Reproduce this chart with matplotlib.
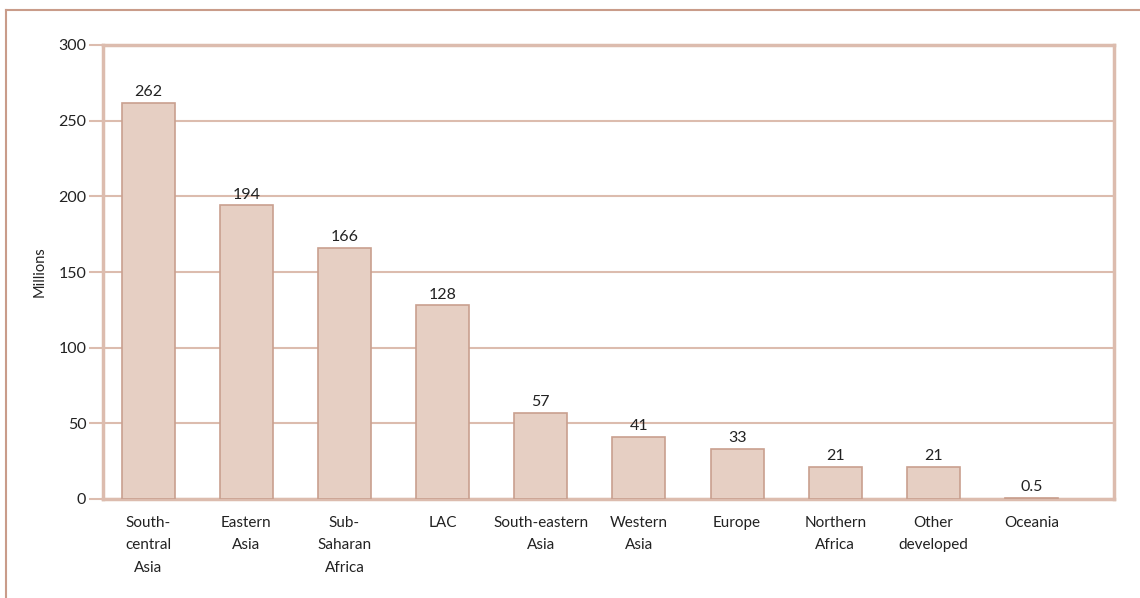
import matplotlib
matplotlib.use("Agg")
import matplotlib.pyplot as plt
from matplotlib.lines import Line2D

regions = ["South-\ncentral\nAsia", "Eastern\nAsia", "Sub-\nSaharan\nAfrica", "LAC",
           "South-eastern\nAsia", "Western\nAsia", "Europe", "Northern\nAfrica",
           "Other\ndeveloped", "Oceania"]
millions = [262, 194, 166, 128, 57, 41, 33, 21, 21, 0.5]
value_labels = ["262", "194", "166", "128", "57", "41", "33", "21", "21", "0.5"]
y_ticks = [0, 50, 100, 150, 200, 250, 300]

plt.rcParams['font.family'] = ['Lato', 'DejaVu Sans']

frame_col = '#c99c8a'
spine_col = '#dcbcae'
bar_fill = '#e6cfc3'
bar_edge = '#c9a08f'

fig = plt.figure(figsize=(11.4, 5.98), dpi=100)
ax = fig.add_axes([103/1140, 1 - 499/598, (1114-103)/1140, (499-45)/598])

x = range(len(regions))
ax.bar(x, millions, width=0.54, color=bar_fill, edgecolor=bar_edge, linewidth=1.2, zorder=3)
for i, v in enumerate(millions):
    ax.text(i, v + 2.5, value_labels[i], ha='center', va='bottom', fontsize=11.5, color='#222222')

ax.set_xlim(-0.46, 9.84)
ax.set_ylim(0, 300)
ax.set_yticks(y_ticks)
ax.set_xticks(list(x))
ax.set_xticklabels(regions, fontsize=11, color='#222222', linespacing=1.78)
ax.tick_params(axis='y', labelsize=11.5, colors=spine_col, length=10, width=1.5, pad=2, labelcolor='#222222')
ax.tick_params(axis='x', length=0, pad=12)
ax.grid(axis='y', color=spine_col, linewidth=1.5, zorder=0)
for s in ax.spines.values():
    s.set_color(spine_col)
    s.set_linewidth(2.5)
ax.set_ylabel("Millions", fontsize=10.5, color='#222222', labelpad=8)

# outer frame (top and left only)
fig.add_artist(Line2D([6/1140, 1], [1 - 10/598, 1 - 10/598], transform=fig.transFigure, color=frame_col, lw=1.5))
fig.add_artist(Line2D([6/1140, 6/1140], [0, 1 - 10/598], transform=fig.transFigure, color=frame_col, lw=1.5))

fig.savefig("out.png", dpi=100)
